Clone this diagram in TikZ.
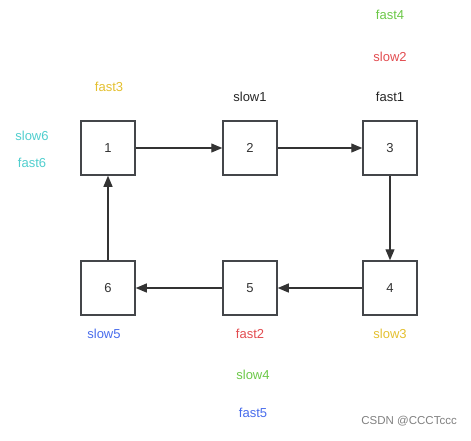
\documentclass[tikz,border=0pt]{standalone}
\usepackage{fontspec}
\setmainfont{Liberation Sans}
\usetikzlibrary{positioning,arrows.meta}
\definecolor{lgreen}{RGB}{108,200,72}
\definecolor{lred}{RGB}{226,76,80}
\definecolor{lgold}{RGB}{228,192,48}
\definecolor{lcyan}{RGB}{80,206,206}
\definecolor{lblue}{RGB}{72,108,236}
\definecolor{lgray}{RGB}{68,70,74}
\tikzset{
  cell/.style={draw=lgray, line width=1.5pt, minimum size=54pt, inner sep=0pt, text=black!80},
  link/.style={draw=black!80, line width=1.2pt, -{Triangle[length=11pt,width=9pt]}},
  lbl/.style={inner sep=0pt, font=\fontsize{13}{15}\selectfont}
}
\begin{document}
\begin{tikzpicture}[x=1pt,y=-1pt, font=\fontsize{13}{15}\selectfont]
\useasboundingbox (0,0) rectangle (471,440);

\node[cell] (n1) at (108,148) {1};
\node[cell] (n2) at (250,148) {2};
\node[cell] (n3) at (390,148) {3};
\node[cell] (n4) at (390,288) {4};
\node[cell] (n5) at (250,288) {5};
\node[cell] (n6) at (108,288) {6};

\draw[link] (n1) -- (n2);
\draw[link] (n2) -- (n3);
\draw[link] (n3) -- (n4);
\draw[link] (n4) -- (n5);
\draw[link] (n5) -- (n6);
\draw[link] (n6) -- (n1);

% pointer labels
\node[lbl, lgreen] (f4) at (390,15) {fast4};
\node[lbl, lred] (s2) at (390,57) {slow2};
\node[lbl, black!85] (f1) at (390,97) {fast1};
\node[lbl, black!85] (s1) at (250,97) {slow1};
\node[lbl, lgold] (f3) at (109,87) {fast3};
\node[lbl, lcyan] (s6) at (32,136) {slow6};
\node[lbl, lcyan] (f6) at (32,163) {fast6};
\node[lbl, lblue] (s5) at (104,334) {slow5};
\node[lbl, lred] (f2) at (250,334) {fast2};
\node[lbl, lgold] (s3) at (390,334) {slow3};
\node[lbl, lgreen] (s4) at (253,375) {slow4};
\node[lbl, lblue] (f5) at (253,413) {fast5};

\node[lbl, gray, anchor=east, font=\fontsize{11.5}{13}\selectfont] (mark) at (457,421) {CSDN @CCCTccc};

\end{tikzpicture}
\end{document}
